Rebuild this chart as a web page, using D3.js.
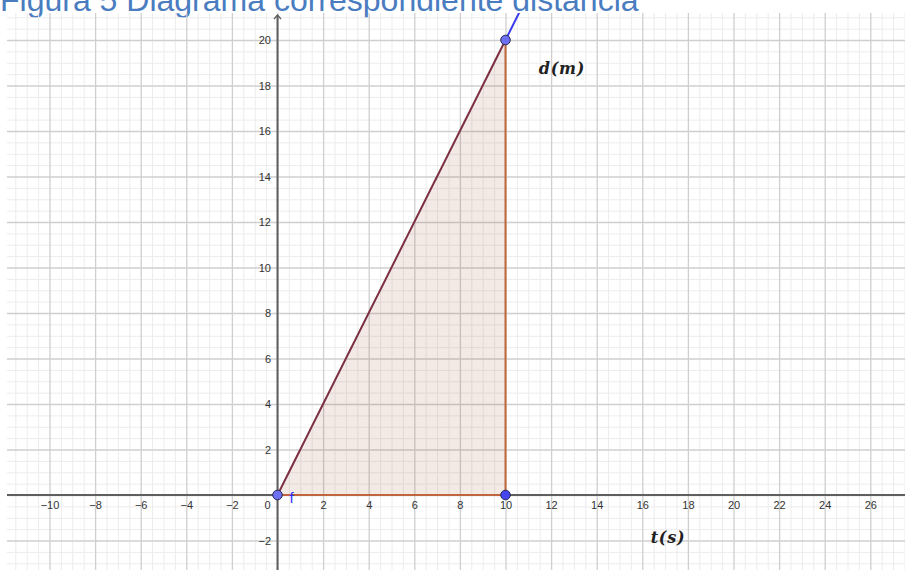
<!DOCTYPE html>
<html>
<head>
<meta charset="utf-8">
<script src="https://cdn.jsdelivr.net/npm/d3@7"></script>
<style>
  html, body { margin: 0; padding: 0; background: #fff; overflow: hidden; }
  svg { display: block; }
  .tick text { font-family: "Liberation Sans", Arial, sans-serif; font-size: 11px; fill: #333; }
</style>
</head>
<body>
<svg id="chart" width="905" height="570"></svg>
<script>
// Figure data
const titleText = "Figura 5 Diagrama correspondiente distancia";
const xTickValues = [-10, -8, -6, -4, -2, 2, 4, 6, 8, 10, 12, 14, 16, 18, 20, 22, 24, 26];
const yTickValues = [-2, 2, 4, 6, 8, 10, 12, 14, 16, 18, 20];
const triangleT = [0, 10, 10];      // time (s) of the triangle vertices
const triangleD = [0, 20, 0];       // distance (m) of the triangle vertices
const pointT = [0, 10, 10];
const pointD = [0, 20, 0];
const lineF = { slope: 2 };         // d = 2·t
const axisLabels = ["t(s)", "d(m)"];

const W = 905, H = 570;
const plot = { left: 7, top: 13, right: W, bottom: H };

const x = d3.scaleLinear().domain([0, 10]).range([277.5, 505.5]);
const y = d3.scaleLinear().domain([0, 20]).range([495, 40]);

const svg = d3.select("#chart");

// Title
svg.append("text")
  .attr("x", 0).attr("y", 10.5)
  .attr("font-family", "'Liberation Sans', Arial, sans-serif")
  .attr("font-size", 32)
  .attr("fill", "#4a7cc0")
  .text(titleText);

const g = svg.append("g");
g.append("clipPath").attr("id", "plotclip")
  .append("rect")
  .attr("x", plot.left).attr("y", plot.top)
  .attr("width", plot.right - plot.left).attr("height", plot.bottom - plot.top);

const area = g.append("g").attr("clip-path", "url(#plotclip)");

// Grid lines: minor every 0.5, major every 2
const xmin = x.invert(plot.left), xmax = x.invert(plot.right);
const ymin = y.invert(plot.bottom), ymax = y.invert(plot.top);
const minorX = d3.range(Math.ceil(xmin * 2) / 2, xmax, 0.5).filter(v => Math.abs(v % 2) > 1e-9);
const minorY = d3.range(Math.ceil(ymin * 2) / 2, ymax, 0.5).filter(v => Math.abs(v % 2) > 1e-9);
const majorX = d3.range(Math.ceil(xmin / 2) * 2, xmax, 2);
const majorY = d3.range(Math.ceil(ymin / 2) * 2, ymax, 2);

function grid(vals, orient, color, width) {
  const ax = orient === "x"
    ? d3.axisBottom(x).tickValues(vals).tickSize(-(plot.bottom - plot.top)).tickFormat("")
    : d3.axisLeft(y).tickValues(vals).tickSize(-(plot.right - plot.left)).tickFormat("");
  const gg = area.append("g")
    .attr("transform", orient === "x" ? `translate(0,${plot.bottom})` : `translate(${plot.left},0)`)
    .call(ax);
  gg.select(".domain").remove();
  gg.selectAll(".tick line").attr("stroke", color).attr("stroke-width", width);
}
grid(minorX, "x", "#ececec", 1);
grid(minorY, "y", "#ececec", 1);
grid(majorX, "x", "#cfcfcf", 1.3);
grid(majorY, "y", "#cfcfcf", 1.3);

// Shaded triangle
const tri = triangleT.map((t, i) => [x(t), y(triangleD[i])]);
area.append("path")
  .attr("d", d3.line()(tri) + "Z")
  .attr("fill", "#a0522d").attr("fill-opacity", 0.12).attr("stroke", "none");

// Axes lines
area.append("line")
  .attr("x1", plot.left).attr("x2", plot.right)
  .attr("y1", y(0)).attr("y2", y(0))
  .attr("stroke", "#5f5f5f").attr("stroke-width", 2);
area.append("line")
  .attr("x1", x(0)).attr("x2", x(0))
  .attr("y1", plot.top + 2).attr("y2", plot.bottom)
  .attr("stroke", "#5f5f5f").attr("stroke-width", 2);
svg.append("path")
  .attr("d", `M${x(0) - 3.5},${plot.top + 6} L${x(0)},${plot.top + 2} L${x(0) + 3.5},${plot.top + 6}`)
  .attr("fill", "none").attr("stroke", "#5f5f5f").attr("stroke-width", 1.3);

// Tick labels
const xa = svg.append("g").attr("transform", `translate(0,${y(0)})`)
  .call(d3.axisBottom(x).tickValues(xTickValues).tickSize(0).tickPadding(6));
xa.select(".domain").remove();
svg.append("text")
  .attr("x", x(0) - 10).attr("y", y(0) + 6).attr("dy", "0.71em")
  .attr("text-anchor", "middle")
  .attr("font-family", "'Liberation Sans', Arial, sans-serif").attr("font-size", 11).attr("fill", "#333")
  .text(d3.format("d")(0));
const ya = svg.append("g").attr("transform", `translate(${x(0)},0)`)
  .call(d3.axisLeft(y).tickValues(yTickValues).tickSize(0).tickPadding(6.5));
ya.select(".domain").remove();

// Triangle edges
area.append("line")
  .attr("x1", x(triangleT[1])).attr("y1", y(triangleD[1]))
  .attr("x2", x(triangleT[2])).attr("y2", y(triangleD[2]))
  .attr("stroke", "#c0653c").attr("stroke-width", 2);
area.append("line")
  .attr("x1", x(triangleT[2])).attr("y1", y(triangleD[2]))
  .attr("x2", x(triangleT[0])).attr("y2", y(triangleD[0]))
  .attr("stroke", "#c0653c").attr("stroke-width", 2);
area.append("line")
  .attr("x1", x(triangleT[0])).attr("y1", y(triangleD[0]))
  .attr("x2", x(triangleT[1])).attr("y2", y(triangleD[1]))
  .attr("stroke", "#7b2f45").attr("stroke-width", 2);

// Line f beyond the triangle
const tTop = ymax / lineF.slope;
area.append("line")
  .attr("x1", x(10)).attr("y1", y(10 * lineF.slope))
  .attr("x2", x(tTop + 0.1)).attr("y2", y((tTop + 0.1) * lineF.slope))
  .attr("stroke", "#3b3bf0").attr("stroke-width", 2);

// Points
const pointFill = ["#6f6ff2", "#6f6ff2", "#4545f2"];
svg.selectAll("circle.pt")
  .data(pointT.map((t, i) => ({ t, d: pointD[i], fill: pointFill[i] })))
  .join("circle")
  .attr("class", "pt")
  .attr("cx", p => x(p.t)).attr("cy", p => y(p.d))
  .attr("r", 4.8)
  .attr("fill", p => p.fill)
  .attr("stroke", "#2a2a55").attr("stroke-width", 1);

// Label f
svg.append("text")
  .attr("x", x(0) + 12).attr("y", y(0) + 8)
  .attr("font-family", "'Liberation Sans', Arial, sans-serif").attr("font-size", 15)
  .attr("fill", "#2f2fff")
  .text("f");

// Axis titles
svg.append("text")
  .attr("x", 668).attr("y", 543)
  .attr("text-anchor", "middle")
  .attr("font-family", "'DejaVu Serif', 'Liberation Serif', serif")
  .attr("font-style", "italic").attr("font-weight", "bold").attr("font-size", 16)
  .attr("letter-spacing", 0.8)
  .attr("fill", "#222")
  .text(axisLabels[0]);
svg.append("text")
  .attr("x", 562).attr("y", 74)
  .attr("text-anchor", "middle")
  .attr("font-family", "'DejaVu Serif', 'Liberation Serif', serif")
  .attr("font-style", "italic").attr("font-weight", "bold").attr("font-size", 16)
  .attr("letter-spacing", 0.8)
  .attr("fill", "#222")
  .text(axisLabels[1]);
</script>
</body>
</html>
